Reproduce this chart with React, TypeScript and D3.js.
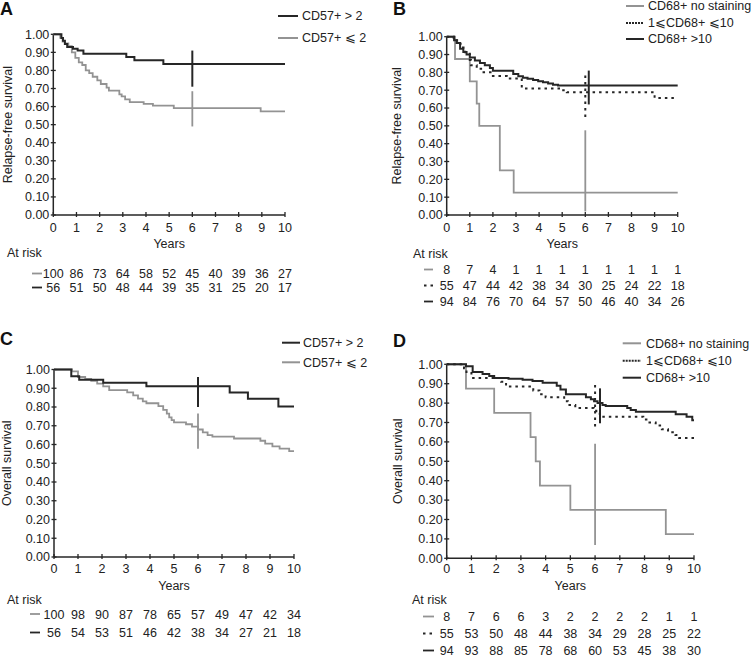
import React from "react";
import * as d3 from "d3";

// ---------- data ----------
const yearTicks = [0, 1, 2, 3, 4, 5, 6, 7, 8, 9, 10];
const survTicks = [0, 0.1, 0.2, 0.3, 0.4, 0.5, 0.6, 0.7, 0.8, 0.9, 1.0];

// Panel A: relapse-free survival by CD57+
const aHigh: [number, number][] = [[0, 1], [0.35, 0.98], [0.42, 0.964], [0.5, 0.946], [0.6, 0.93], [0.85, 0.92], [1.05, 0.91], [1.3, 0.893], [3.15, 0.875], [3.5, 0.857], [4.75, 0.836]];
const aLow: [number, number][] = [[0, 1], [0.3, 0.98], [0.4, 0.96], [0.5, 0.95], [0.65, 0.935], [0.8, 0.9], [0.95, 0.87], [1.1, 0.845], [1.25, 0.83], [1.4, 0.8], [1.55, 0.785], [1.7, 0.765], [1.9, 0.745], [2.05, 0.725], [2.3, 0.705], [2.4, 0.688], [2.85, 0.668], [2.95, 0.657], [3.1, 0.64], [3.3, 0.625], [3.9, 0.615], [4.3, 0.605], [5.2, 0.592], [8.95, 0.574]];
const aCensor = [{ t: 6, lo: 0.71, hi: 0.91, s: "high" }, { t: 6, lo: 0.49, hi: 0.685, s: "low" }];
const aRiskLow = [100, 86, 73, 64, 58, 52, 45, 40, 39, 36, 27];
const aRiskHigh = [56, 51, 50, 48, 44, 39, 35, 31, 25, 20, 17];

// Panel B: relapse-free survival by CD68+
const bNone: [number, number][] = [[0, 1], [0.36, 0.875], [1.0, 0.75], [1.3, 0.625], [1.41, 0.5], [2.3, 0.25], [2.9, 0.125]];
const bMid: [number, number][] = [[0, 1], [0.3, 0.98], [0.45, 0.96], [0.6, 0.94], [0.8, 0.905], [1.0, 0.87], [1.05, 0.84], [1.3, 0.82], [1.55, 0.8], [2.0, 0.78], [2.6, 0.765], [3.25, 0.71], [5.0, 0.7], [5.2, 0.688], [9.0, 0.656]];
const bHigh: [number, number][] = [[0, 1], [0.32, 0.98], [0.43, 0.965], [0.58, 0.933], [0.72, 0.914], [0.86, 0.9], [1.0, 0.884], [1.22, 0.867], [1.44, 0.852], [1.65, 0.84], [1.87, 0.824], [2.0, 0.809], [2.88, 0.791], [3.1, 0.778], [3.3, 0.77], [3.5, 0.764], [3.74, 0.757], [3.96, 0.75], [4.17, 0.744], [4.39, 0.737], [4.6, 0.731], [4.82, 0.726]];
const bCensor = [{ t: 6.15, lo: 0.62, hi: 0.81, s: "high" }, { t: 6, lo: 0.55, hi: 0.795, s: "mid" }, { t: 6, lo: 0.02, hi: 0.475, s: "none" }];
const bRiskNone = [8, 7, 4, 1, 1, 1, 1, 1, 1, 1, 1];
const bRiskMid = [55, 47, 44, 42, 38, 34, 30, 25, 24, 22, 18];
const bRiskHigh = [94, 84, 76, 70, 64, 57, 50, 46, 40, 34, 26];

// Panel C: overall survival by CD57+
const cHigh: [number, number][] = [[0, 1], [0.72, 0.964], [1.05, 0.946], [2.05, 0.929], [3.85, 0.911], [7.32, 0.878], [8.08, 0.844], [9.35, 0.803]];
const cLow: [number, number][] = [[0, 1], [0.75, 0.99], [1.0, 0.96], [1.3, 0.95], [1.55, 0.94], [1.8, 0.925], [2.05, 0.91], [2.3, 0.89], [3.05, 0.878], [3.3, 0.862], [3.5, 0.845], [3.7, 0.83], [3.85, 0.82], [4.35, 0.805], [4.55, 0.785], [4.7, 0.765], [4.8, 0.745], [4.9, 0.73], [5.0, 0.718], [5.5, 0.708], [5.75, 0.695], [6.0, 0.68], [6.2, 0.665], [6.4, 0.65], [6.6, 0.642], [7.5, 0.632], [8.6, 0.62], [8.8, 0.605], [9.1, 0.59], [9.4, 0.578], [9.8, 0.565]];
const cCensor = [{ t: 6, lo: 0.8, hi: 0.96, s: "high" }, { t: 6, lo: 0.578, hi: 0.765, s: "low" }];
const cRiskLow = [100, 98, 90, 87, 78, 65, 57, 49, 47, 42, 34];
const cRiskHigh = [56, 54, 53, 51, 46, 42, 38, 34, 27, 21, 18];

// Panel D: overall survival by CD68+
const dNone: [number, number][] = [[0, 1], [0.78, 0.875], [1.92, 0.75], [3.39, 0.625], [3.6, 0.5], [3.77, 0.375], [5.0, 0.25], [8.86, 0.125]];
const dMid: [number, number][] = [[0, 1], [0.7, 0.98], [0.8, 0.955], [1.0, 0.93], [2.2, 0.91], [2.4, 0.885], [3.5, 0.865], [3.75, 0.845], [4.0, 0.83], [4.75, 0.81], [4.9, 0.79], [5.2, 0.775], [5.95, 0.76], [6.05, 0.745], [6.2, 0.73], [7.95, 0.715], [8.2, 0.7], [8.45, 0.685], [8.7, 0.665], [8.95, 0.65], [9.25, 0.635], [9.4, 0.62]];
const dHigh: [number, number][] = [[0, 1], [0.78, 0.99], [1.05, 0.96], [1.45, 0.95], [1.72, 0.94], [1.92, 0.93], [2.5, 0.925], [3.07, 0.92], [3.47, 0.914], [3.88, 0.905], [4.45, 0.89], [4.6, 0.87], [4.82, 0.845], [5.63, 0.83], [5.83, 0.82], [5.96, 0.81], [6.1, 0.8], [6.3, 0.79], [6.43, 0.785], [7.3, 0.775], [7.44, 0.765], [7.65, 0.755], [9.26, 0.742], [9.7, 0.73], [9.93, 0.712]];
const dCensor = [{ t: 6.2, lo: 0.696, hi: 0.876, s: "high" }, { t: 6, lo: 0.68, hi: 0.894, s: "mid" }, { t: 6, lo: 0.069, hi: 0.59, s: "none" }];
const dRiskNone = [8, 7, 6, 6, 3, 2, 2, 2, 2, 1, 1];
const dRiskMid = [55, 53, 50, 48, 44, 38, 34, 29, 28, 25, 22];
const dRiskHigh = [94, 93, 88, 85, 78, 68, 60, 53, 45, 38, 30];

const legendA = ["CD57+ > 2", "CD57+ \u2A7D 2"];
const legendB = ["CD68+ no staining", "1\u2A7DCD68+ \u2A7D10", "CD68+ >10"];

// ---------- styles ----------
const FONT = "'Liberation Sans', Arial, Helvetica, sans-serif";
const DARK = "#262626";
const GRAY = "#939393";
const STY: Record<string, { color: string; dash?: string; width: number }> = {
  high: { color: DARK, width: 2 },
  low: { color: GRAY, width: 1.8 },
  none: { color: GRAY, width: 1.8 },
  mid: { color: DARK, dash: "2.5,4", width: 2 },
};

type Series = { data: [number, number][]; s: string };
type PanelProps = {
  x0: number; x1: number; yTop: number; yBot: number;
  letter: string; letterX: number; letterY: number;
  yTitle: string; yTitleX: number;
  tickLabelY: number; yearsY: number;
  series: Series[];
  censors: { t: number; lo: number; hi: number; s: string }[];
  legend: { x1: number; x2: number; tx: number; ys: number[]; items: string[]; s: string[] };
  risk: { atX: number; atY: number; px1: number; px2: number; ys: number[]; rows: number[][]; s: string[] };
};

function Panel(p: PanelProps) {
  const x = d3.scaleLinear().domain([0, 10]).range([p.x0, p.x1]);
  const y = d3.scaleLinear().domain([0, 1]).range([p.yBot, p.yTop]);
  const line = d3.line<[number, number]>().x((d) => x(d[0])).y((d) => y(d[1])).curve(d3.curveStepAfter);
  return (
    <g fontFamily={FONT}>
      <text x={p.letterX} y={p.letterY} fontSize={18} fontWeight="bold" fill="#111">{p.letter}</text>
      {/* axes */}
      <line x1={x(0)} x2={x(0)} y1={y(0)} y2={y(1)} stroke={DARK} strokeWidth={1.5} />
      <line x1={x(0)} x2={x(10)} y1={y(0)} y2={y(0)} stroke={DARK} strokeWidth={1.5} />
      {survTicks.map((v) => (
        <g key={"y" + v}>
          <line x1={x(0) - 2.5} x2={x(0) + 2.5} y1={y(v)} y2={y(v)} stroke={DARK} strokeWidth={1.3} />
          <text x={x(0) - 4} y={y(v)} dy="0.35em" textAnchor="end" fontSize={12.5} fill="#222">{d3.format(".2f")(v)}</text>
        </g>
      ))}
      {yearTicks.map((t) => (
        <g key={"x" + t}>
          <line x1={x(t)} x2={x(t)} y1={y(0) - 3} y2={y(0) + 2} stroke={DARK} strokeWidth={1.3} />
          <text x={x(t)} y={p.tickLabelY} textAnchor="middle" fontSize={12.5} fill="#222">{t}</text>
        </g>
      ))}
      <text x={(p.x0 + p.x1) / 2} y={p.yearsY} textAnchor="middle" fontSize={12.5} fill="#222">Years</text>
      <text transform={`translate(${p.yTitleX},${(p.yTop + p.yBot) / 2}) rotate(-90)`} dy="0.35em" textAnchor="middle" fontSize={12.5} fill="#222">{p.yTitle}</text>
      {/* curves */}
      {p.series.map((se, i) => {
        const st = STY[se.s];
        const pts = [...se.data, [10, se.data[se.data.length - 1][1]] as [number, number]];
        return <path key={i} d={line(pts) || ""} fill="none" stroke={st.color} strokeWidth={st.width} strokeDasharray={st.dash} />;
      })}
      {p.censors.map((c, i) => {
        const st = STY[c.s];
        return <line key={"c" + i} x1={x(c.t)} x2={x(c.t)} y1={y(c.lo)} y2={y(c.hi)} stroke={st.color} strokeWidth={st.width} strokeDasharray={st.dash} />;
      })}
      {/* legend */}
      {p.legend.items.map((txt, i) => {
        const st = STY[p.legend.s[i]];
        return (
          <g key={"l" + i}>
            <line x1={p.legend.x1} x2={p.legend.x2} y1={p.legend.ys[i]} y2={p.legend.ys[i]} stroke={st.color} strokeWidth={2} strokeDasharray={st.dash ? "2,1" : undefined} />
            <text x={p.legend.tx} y={p.legend.ys[i]} dy="0.35em" fontSize={12.5} fill="#222">{txt}</text>
          </g>
        );
      })}
      {/* at risk */}
      <text x={p.risk.atX} y={p.risk.atY} fontSize={12.5} fill="#222">At risk</text>
      {p.risk.rows.map((row, r) => {
        const st = STY[p.risk.s[r]];
        const yy = p.risk.ys[r];
        return (
          <g key={"r" + r}>
            <line x1={p.risk.px1} x2={p.risk.px2} y1={yy - 4.5} y2={yy - 4.5} stroke={st.color} strokeWidth={1.8} strokeDasharray={st.dash ? "2.5,4" : undefined} />
            {row.map((n, k) => (
              <text key={k} x={x(yearTicks[k])} y={yy} textAnchor="middle" fontSize={12.5} fill="#222">{n}</text>
            ))}
          </g>
        );
      })}
    </g>
  );
}

export default function App() {
  return (
    <svg width={752} height={662} style={{ position: "absolute", left: 0, top: 0, background: "#fff" }}>
      <Panel
        x0={53.3} x1={285} yTop={34.3} yBot={215}
        letter="A" letterX={0} letterY={15}
        yTitle="Relapse-free survival" yTitleX={8}
        tickLabelY={232} yearsY={248}
        series={[{ data: aLow, s: "low" }, { data: aHigh, s: "high" }]}
        censors={aCensor}
        legend={{ x1: 278, x2: 298, tx: 302, ys: [16, 38], items: legendA, s: ["high", "low"] }}
        risk={{ atX: 7, atY: 257, px1: 32, px2: 42, ys: [278, 292], rows: [aRiskLow, aRiskHigh], s: ["low", "high"] }}
      />
      <Panel
        x0={446.7} x1={677.7} yTop={36.7} yBot={215}
        letter="B" letterX={393} letterY={15}
        yTitle="Relapse-free survival" yTitleX={397}
        tickLabelY={232} yearsY={248}
        series={[{ data: bNone, s: "none" }, { data: bMid, s: "mid" }, { data: bHigh, s: "high" }]}
        censors={bCensor}
        legend={{ x1: 626, x2: 644, tx: 648, ys: [6, 23, 39], items: legendB, s: ["none", "mid", "high"] }}
        risk={{ atX: 413, atY: 257.5, px1: 424, px2: 433, ys: [274, 290, 306], rows: [bRiskNone, bRiskMid, bRiskHigh], s: ["none", "mid", "high"] }}
      />
      <Panel
        x0={54} x1={294} yTop={369.5} yBot={557}
        letter="C" letterX={0} letterY={345}
        yTitle="Overall survival" yTitleX={7}
        tickLabelY={573} yearsY={590}
        series={[{ data: cLow, s: "low" }, { data: cHigh, s: "high" }]}
        censors={cCensor}
        legend={{ x1: 282, x2: 300, tx: 303, ys: [342.7, 362.3], items: legendA, s: ["high", "low"] }}
        risk={{ atX: 7, atY: 604, px1: 30, px2: 40, ys: [618.5, 637], rows: [cRiskLow, cRiskHigh], s: ["low", "high"] }}
      />
      <Panel
        x0={446.7} x1={694} yTop={364.3} yBot={558.3}
        letter="D" letterX={393} letterY={347}
        yTitle="Overall survival" yTitleX={398}
        tickLabelY={573} yearsY={590}
        series={[{ data: dNone, s: "none" }, { data: dMid, s: "mid" }, { data: dHigh, s: "high" }]}
        censors={dCensor}
        legend={{ x1: 622.7, x2: 641, tx: 646, ys: [343.3, 360.7, 377.7], items: legendB, s: ["none", "mid", "high"] }}
        risk={{ atX: 412, atY: 604, px1: 423, px2: 434, ys: [621, 638, 655], rows: [dRiskNone, dRiskMid, dRiskHigh], s: ["none", "mid", "high"] }}
      />
    </svg>
  );
}
